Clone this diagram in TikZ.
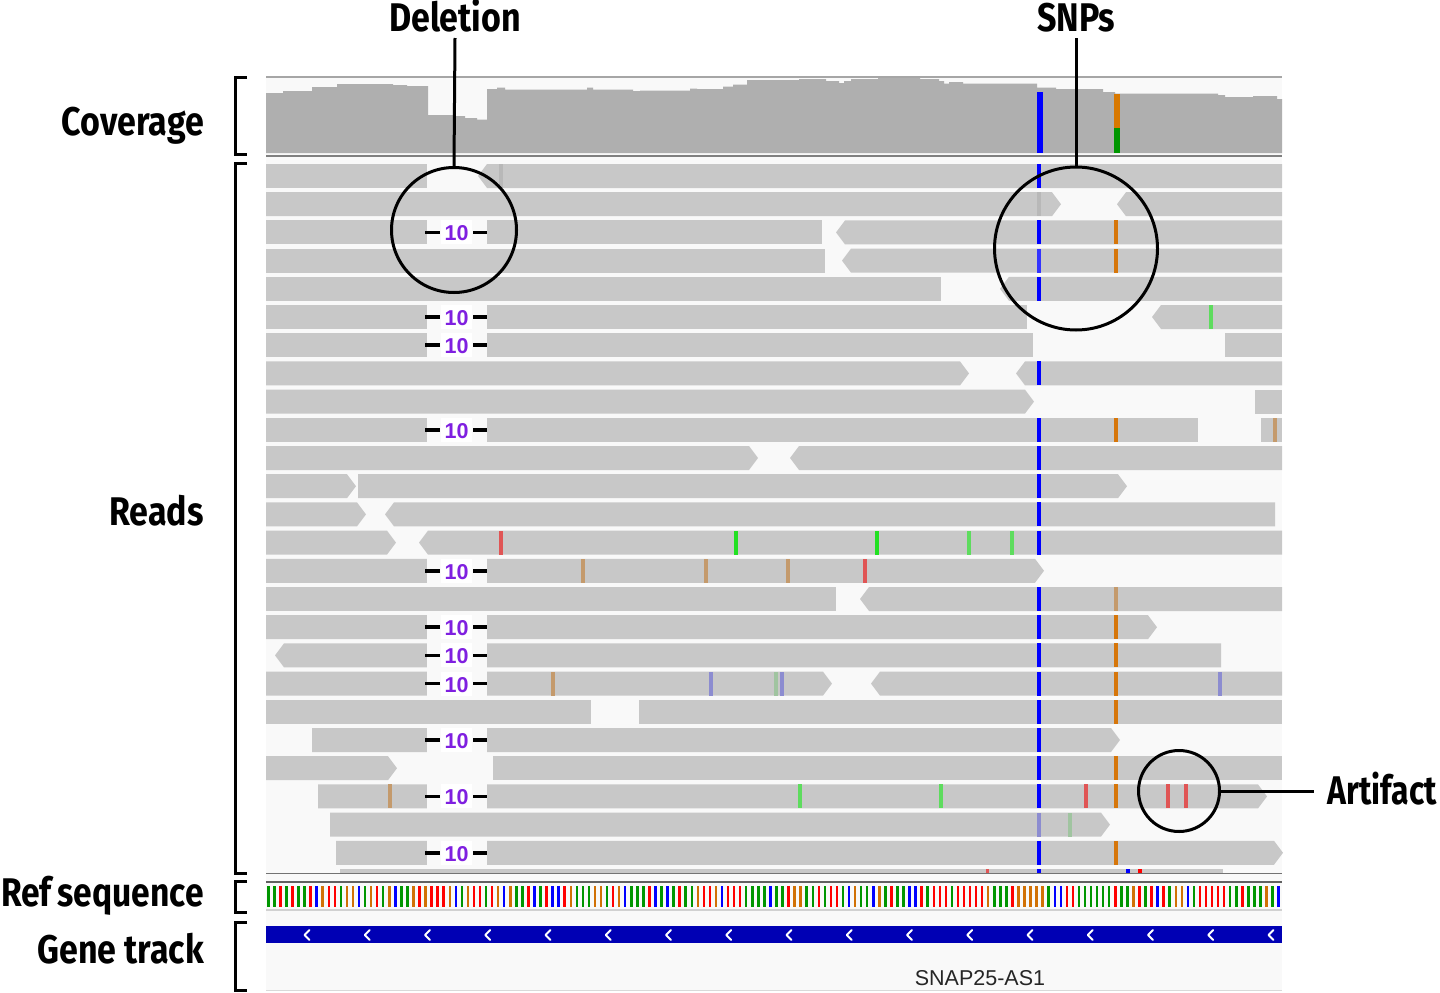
\documentclass[tikz,border=0pt]{standalone}
\usepackage{fontspec}
\setmainfont{Liberation Sans}
\newfontfamily\labfont[FakeStretch=0.85]{Fira Sans}
\newfontfamily\labfontn[FakeStretch=0.8]{Fira Sans}
\newfontfamily\labfontr[FakeStretch=0.84,WordSpace=0.75]{Fira Sans}
\definecolor{rdgray}{HTML}{C8C8C8}
\definecolor{covgray}{HTML}{AFAFAF}
\definecolor{panelbg}{HTML}{F9F9F9}
\definecolor{snpblue}{HTML}{0000FF}
\definecolor{snporange}{HTML}{D6760A}
\definecolor{covorange}{HTML}{D87800}
\definecolor{covgreen}{HTML}{009600}
\definecolor{tanc}{HTML}{C49A6C}
\definecolor{brgreen}{HTML}{22E022}
\definecolor{ltgreen}{HTML}{5EDC5E}
\definecolor{redm}{HTML}{E05555}
\definecolor{purm}{HTML}{8C8CD0}
\definecolor{pgreen}{HTML}{A0C4A0}
\definecolor{fgray}{HTML}{B8B8B8}
\definecolor{genebl}{HTML}{0000B4}
\definecolor{numpurple}{HTML}{7F1FE0}
\definecolor{refA}{HTML}{009600}
\definecolor{refC}{HTML}{0000FF}
\definecolor{refG}{HTML}{D17105}
\definecolor{refT}{HTML}{FF0000}
% reads: flat, right-pointing, left-pointing
\newcommand\rdF[3]{\fill[rdgray] (#1,{164+28.2*#3}) rectangle (#2,{188+28.2*#3});}
\newcommand\rdR[3]{\fill[rdgray] (#1,{164+28.2*#3}) -- ({#2-9},{164+28.2*#3}) -- (#2,{176+28.2*#3}) -- ({#2-9},{188+28.2*#3}) -- (#1,{188+28.2*#3}) -- cycle;}
\newcommand\rdL[3]{\fill[rdgray] ({#1+9},{164+28.2*#3}) -- (#2,{164+28.2*#3}) -- (#2,{188+28.2*#3}) -- ({#1+9},{188+28.2*#3}) -- (#1,{176+28.2*#3}) -- cycle;}
\newcommand\mk[3]{\fill[#3] ({#1-1.9},{164+28.2*#2}) rectangle ({#1+1.9},{188+28.2*#2});}
\newcommand\dlt[1]{%
  \fill[panelbg] (427,{163+28.2*#1}) rectangle (487,{189+28.2*#1});
  \fill[white] (441,{164+28.2*#1}) rectangle (472,{188+28.2*#1});
  \draw[delbar] (425,{176+28.2*#1}) -- (440,{176+28.2*#1});
  \draw[delbar] (473,{176+28.2*#1}) -- (487,{176+28.2*#1});
  \node[delnum] at (456.5,{177+28.2*#1}) {10};}
\tikzset{
  lab/.style={font={\labfont\bfseries\fontsize{40}{44}\selectfont}, inner sep=0pt},
  labn/.style={font={\labfontn\bfseries\fontsize{40}{44}\selectfont}, inner sep=0pt},
  labr/.style={font={\labfontr\bfseries\fontsize{40}{44}\selectfont}, inner sep=0pt},
  brk/.style={line width=3pt, line cap=butt},
  ann/.style={line width=3pt, black},
  ring/.style={circle, draw=black, line width=3pt, inner sep=0pt},
  delbar/.style={line width=3.6pt, black},
  delnum/.style={font={\bfseries\fontsize{21.5}{21.5}\selectfont}, text=numpurple, inner sep=0pt},
}
\begin{document}
\begin{tikzpicture}[x=1pt,y=-1pt,line join=miter]
\useasboundingbox (0,0) rectangle (1440,993);
\fill[white] (0,0) rectangle (1440,993);
% panel background
\fill[panelbg] (266,77) rectangle (1282,990);
\draw[line width=1.5pt, color=black!35] (266,77) -- (1282,77);
% coverage
\fill[covgray] (266,153) -- (266,93) -- (283,93) -- (283,91) -- (312,91) -- (312,87) -- (337,87) -- (337,84) -- (393,84) -- (393,85) -- (407,85) -- (407,86) -- (428,86) -- (428,115) -- (453,115) -- (453,116) -- (465,116) -- (465,118) -- (477,118) -- (477,119.5) -- (487,119.5) -- (487,89) -- (497,89) -- (497,87.5) -- (505,87.5) -- (505,89.5) -- (587,89.5) -- (587,87.5) -- (593,87.5) -- (593,89.5) -- (633,89.5) -- (633,91) -- (640,91) -- (640,90.5) -- (690,90.5) -- (690,88.5) -- (697,88.5) -- (697,89) -- (723,89) -- (723,86.5) -- (733,86.5) -- (733,84.5) -- (747,84.5) -- (747,80) -- (799,80) -- (799,79) -- (826,79) -- (826,81) -- (839,81) -- (839,83) -- (844,83) -- (844,81) -- (851,81) -- (851,79) -- (878,79) -- (878,78) -- (920,78) -- (920,79) -- (939,79) -- (939,81) -- (944,81) -- (944,83.5) -- (949,83.5) -- (949,82) -- (963,82) -- (963,83.5) -- (1037,83.5) -- (1037,87.5) -- (1056,87.5) -- (1056,89) -- (1103,89) -- (1103,92) -- (1115,92) -- (1115,93.5) -- (1218,93.5) -- (1218,95) -- (1225,95) -- (1225,97) -- (1253,97) -- (1253,96) -- (1277,96) -- (1277,99) -- (1282,99) -- (1282,153) -- cycle;
\fill[snpblue] (1037,92) rectangle (1043,153);
\fill[covorange] (1114,94) rectangle (1120,128);
\fill[covgreen] (1114,128) rectangle (1120,153);
\draw[line width=2pt, color=black!50] (266,155.5) -- (1282,155.5);
% ---- reads ----
% row 0
\rdF{266}{427}{0} \rdL{478}{1282}{0} \mk{501}{0}{fgray} \mk{1039}{0}{snpblue}
% row 1
\rdR{266}{1061}{1} \mk{1039}{1}{fgray} \rdL{1117}{1282}{1}
% row 2
\rdF{266}{822}{2} \rdL{836}{1282}{2} \dlt{2} \mk{1039}{2}{snpblue} \mk{1116}{2}{snporange}
% row 3
\rdF{266}{825}{3} \rdL{842}{1282}{3} \mk{1039}{3}{snpblue!80} \mk{1116}{3}{snporange}
% row 4
\rdF{266}{941}{4} \rdL{1000}{1282}{4} \mk{1039}{4}{snpblue}
% row 5
\rdF{266}{1027}{5} \dlt{5} \rdL{1152}{1282}{5} \mk{1211}{5}{ltgreen}
% row 6
\rdF{266}{1033}{6} \dlt{6} \rdF{1225}{1282}{6}
% row 7
\rdR{266}{969}{7} \rdL{1016}{1282}{7} \mk{1039}{7}{snpblue}
% row 8
\rdR{266}{1034}{8} \rdF{1255}{1282}{8}
% row 9
\rdF{266}{1198}{9} \dlt{9} \mk{1039}{9}{snpblue} \mk{1116}{9}{snporange} \rdF{1261}{1282}{9} \mk{1275}{9}{tanc}
% row 10
\rdR{266}{758}{10} \rdL{790}{1282}{10} \mk{1039}{10}{snpblue}
% row 11
\rdR{266}{356}{11} \rdR{358}{1127}{11} \mk{1039}{11}{snpblue}
% row 12
\rdR{266}{366}{12} \rdL{385}{1275}{12} \mk{1039}{12}{snpblue}
% row 13
\rdR{266}{396}{13} \rdL{419}{1282}{13} \mk{501}{13}{redm} \mk{736}{13}{brgreen} \mk{877}{13}{brgreen} \mk{969}{13}{ltgreen} \mk{1012}{13}{ltgreen} \mk{1039}{13}{snpblue}
% row 14
\rdR{266}{1044}{14} \dlt{14} \mk{583}{14}{tanc} \mk{706}{14}{tanc} \mk{788}{14}{tanc} \mk{865}{14}{redm}
% row 15
\rdF{266}{836}{15} \rdL{860}{1282}{15} \mk{1039}{15}{snpblue} \mk{1116}{15}{tanc}
% row 16
\rdR{266}{1157}{16} \dlt{16} \mk{1039}{16}{snpblue} \mk{1116}{16}{snporange}
% row 17
\rdL{275}{1221}{17} \dlt{17} \mk{1039}{17}{snpblue} \mk{1116}{17}{snporange}
% row 18
\rdR{266}{832}{18} \dlt{18} \mk{553}{18}{tanc} \mk{711}{18}{purm} \mk{776}{18}{pgreen} \mk{782}{18}{purm}
\rdL{871}{1282}{18} \mk{1039}{18}{snpblue} \mk{1116}{18}{snporange} \mk{1220}{18}{purm}
% row 19
\rdF{266}{591}{19} \rdF{639}{1282}{19} \mk{1039}{19}{snpblue} \mk{1116}{19}{snporange}
% row 20
\rdR{312}{1120}{20} \dlt{20} \mk{1039}{20}{snpblue}
% row 21
\rdR{266}{397}{21} \rdF{493}{1282}{21} \mk{1039}{21}{snpblue} \mk{1116}{21}{snporange}
% row 22
\rdR{318}{1267}{22} \dlt{22} \mk{390}{22}{tanc} \mk{800}{22}{ltgreen} \mk{941}{22}{ltgreen} \mk{1039}{22}{snpblue} \mk{1086}{22}{redm} \mk{1116}{22}{snporange} \mk{1168}{22}{redm} \mk{1186}{22}{redm}
% row 23
\rdR{330}{1110}{23} \mk{1039}{23}{purm} \mk{1070}{23}{pgreen}
% row 24
\rdR{336}{1283}{24} \dlt{24} \mk{1039}{24}{snpblue} \mk{1116}{24}{snporange}
% partial row
\fill[rdgray] (340,868.5) rectangle (1223,873);
\fill[redm] (985.5,868.5) rectangle (989,873);
\fill[snpblue] (1037,868.5) rectangle (1041,873);
\fill[snpblue] (1126,868.5) rectangle (1130,873);
\fill[refT] (1138,868.5) rectangle (1142,873);
% separators
\draw[line width=1.5pt, color=black!55] (266,873.5) -- (1282,873.5);
\draw[line width=2.6pt, color=black!62] (266,882) -- (1282,882);
% reference sequence
\pgfmathsetseed{4711}
\pgfmathdeclarerandomlist{bases}{{refA}{refA}{refA}{refC}{refG}{refT}{refT}}
\foreach \i in {0,...,167}{
  \pgfmathrandomitem{\bc}{bases}
  \fill[\bc] ({267+6.05*\i},886) rectangle ({269.5+6.05*\i},907);
}
\draw[line width=1.5pt, color=black!18] (266,910) -- (1282,910);
% gene track
\fill[genebl] (266,926) rectangle (1282,943);
\foreach \k in {0,...,16}{
  \draw[white, line width=2pt, line cap=round, line join=round] ({309.5+60.25*\k},930) -- ({304.5+60.25*\k},935) -- ({309.5+60.25*\k},940);
}
\node[font={\fontsize{21.5}{21.5}\selectfont}, text=black!85, anchor=base, inner sep=0pt] (gname) at (980,985) {SNAP25-AS1};
\draw[line width=1.5pt, color=black!15] (266,990.5) -- (1282,990.5);
% ---- left labels and brackets ----
\node[lab, anchor=base east] (lcov) at (204,135) {Coverage};
\node[lab, anchor=base east] (lreads) at (204,525) {Reads};
\node[labr, anchor=base east] (lref) at (204,906) {Ref sequence};
\node[lab, anchor=base east] (lgene) at (204,963) {Gene track};
\draw[brk] (247,77) -- (235,77) -- (235,154) -- (247,154);
\draw[brk] (247,163) -- (235,163) -- (235,873) -- (247,873);
\draw[brk] (247,881) -- (235,881) -- (235,912) -- (247,912);
\draw[brk] (247,922) -- (235,922) -- (235,990) -- (247,990);
% ---- annotations ----
\node[ring, minimum size=125pt] (delcirc) at (454,230) {};
\node[ring, minimum size=163pt] (snpcirc) at (1076,248.5) {};
\node[ring, minimum size=81pt] (artcirc) at (1179,791) {};
\node[lab, anchor=base] (dellab) at (455,31) {Deletion};
\node[lab, anchor=base] (snplab) at (1076,31) {SNPs};
\node[labn, anchor=base east] (artlab) at (1437,804) {Artifact};
\draw[ann] ([yshift=-7pt]dellab.base) -- (delcirc.north);
\draw[ann] ([yshift=-7pt]snplab.base) -- (snpcirc.north);
\draw[ann, shorten >=14pt] (artcirc.east) -- (artcirc.east -| artlab.west);
\end{tikzpicture}
\end{document}
